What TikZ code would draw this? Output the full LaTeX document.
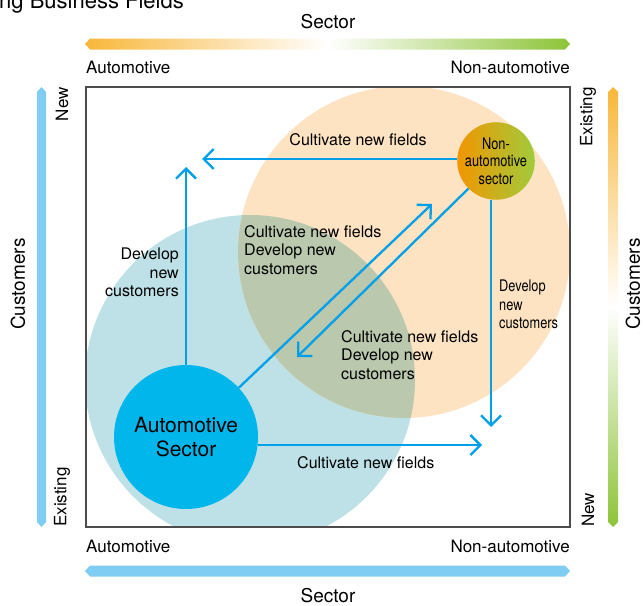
\documentclass[tikz,border=0pt]{standalone}
\usepackage{fontspec}
\setmainfont{TeX Gyre Heros}
\newfontfamily\narrowfont[FakeStretch=0.8]{TeX Gyre Heros}
\usepackage{tikz}
\usetikzlibrary{arrows.meta}

\definecolor{autoblue}{RGB}{0,182,235}
\definecolor{flowblue}{RGB}{0,160,233}
\definecolor{tealfill}{RGB}{189,225,230}
\definecolor{peachfill}{RGB}{253,227,193}
\definecolor{overlapfill}{RGB}{186,200,174}
\definecolor{barblue}{RGB}{127,205,242}
\definecolor{barorange}{RGB}{248,183,58}
\definecolor{bargreen}{RGB}{141,196,56}
\definecolor{nonorange}{RGB}{242,150,0}
\definecolor{nonyellow}{RGB}{244,238,140}
\definecolor{nongreen}{RGB}{160,203,60}

\tikzset{
  flow/.style={draw=flowblue, line width=2.3pt, -{Straight Barb[length=10pt,width=20pt]}},
  lbl/.style={font=\fontsize{16}{18.5}\selectfont, inner sep=0pt},
  narrowlbl/.style={font=\narrowfont\fontsize{16}{18.5}\selectfont, inner sep=0pt},
  axislbl/.style={font=\fontsize{17}{20}\selectfont, inner sep=0pt},
  seclbl/.style={font=\fontsize{19}{22}\selectfont, inner sep=0pt},
  framebox/.style={draw=black!70, line width=1.2pt}
}

\begin{document}
\begin{tikzpicture}[x=1pt, y=-1pt]
            \useasboundingbox (0,0) rectangle (644,605);

            \node[anchor=base west, font=\fontsize{22}{26}\selectfont, inner sep=0pt] (title) at (-1,9) {ng Business Fields};

            \begin{scope}
                \clip (86,87) rectangle (570,527);
                \fill[tealfill] (250,380) circle (165pt);
                \fill[peachfill] (404,252) circle (166pt);
                \clip (250,380) circle (165pt);
                \fill[overlapfill] (404,252) circle (166pt);
            \end{scope}
            \draw[framebox] (86,87) rectangle (570,527);

            \shade[left color=barorange, right color=bargreen, middle color=white] (85,44) -- (90,38.5) -- (565,38.5) -- (570,44) -- (565,49.5) -- (90,49.5) -- cycle;
            \fill[barblue] (85,571) -- (90,565.5) -- (565,565.5) -- (570,571) -- (565,576.5) -- (90,576.5) -- cycle;
            \fill[barblue] (41.5,87) -- (46,92) -- (46,522) -- (41.5,527) -- (37,522) -- (37,92) -- cycle;
            \shade[top color=barorange, bottom color=bargreen, middle color=white] (613,87) -- (618,92) -- (618,522) -- (613,527) -- (608,522) -- (608,92) -- cycle;

            \node[seclbl, anchor=base] (secTop) at (328,28) {Sector};
            \node[axislbl, anchor=base west] (autoTop) at (86,73) {Automotive};
            \node[axislbl, anchor=base east] (nonTop) at (570,73) {Non-automotive};
            \node[axislbl, anchor=base west] (autoBot) at (86,552) {Automotive};
            \node[axislbl, anchor=base east] (nonBot) at (570,552) {Non-automotive};
            \node[seclbl, anchor=base] (secBot) at (328,602) {Sector};

            \node[axislbl, rotate=90, anchor=east] (newLeft) at (62,87) {New};
            \node[axislbl, rotate=90, anchor=west] (exLeft) at (62,527) {Existing};
            \node[axislbl, rotate=90, anchor=east] (exRight) at (588,87) {Existing};
            \node[axislbl, rotate=90, anchor=west] (newRight) at (588,527) {New};
            \node[seclbl, rotate=90] (custLeft) at (18,284) {Customers};
            \node[seclbl, rotate=90] (custRight) at (633,284) {Customers};

            \node[circle, fill=autoblue, minimum size=144pt, inner sep=0pt, align=center, font=\fontsize{21}{24}\selectfont] (auto) at (186,437) {Automotive\\Sector};
            \node[circle, minimum size=67pt, inner sep=0pt, left color=nonorange, middle color=nonyellow, right color=nongreen, align=center, font=\narrowfont\fontsize{16}{17.5}\selectfont] (nonauto) at (496,161) {Non-\\automotive\\sector};

            \coordinate (upTip) at (186,167);
            \coordinate (leftTip) at (202,159);
            \coordinate (downTip) at (491,427);
            \coordinate (rightTip) at (482,445);
            \coordinate (neTip) at (432,204);
            \coordinate (swTip) at (297,357);

            \draw[flow] (auto.north) -- (upTip);
            \draw[flow] (leftTip -| nonauto.west) -- (leftTip);
            \draw[flow] (downTip |- nonauto.south) -- (downTip);
            \draw[flow] (rightTip -| auto.east) -- (rightTip);
            \draw[flow] (auto.43) -- (neTip);
            \draw[flow] (nonauto.225) -- (swTip);

            \node[lbl, anchor=base] (cultTop) at (358,145) {Cultivate new fields};
            \node[lbl, anchor=north east, align=right] (devLeft) at (179,248) {Develop\\new\\customers};
            \node[lbl, anchor=north west, align=left] (bothLeft) at (244,225) {Cultivate new fields\\Develop new\\customers};
            \node[lbl, anchor=north west, align=left] (bothRight) at (341,330) {Cultivate new fields\\Develop new\\customers};
            \node[lbl, anchor=base west] (cultBot) at (297,468) {Cultivate new fields};
            \node[narrowlbl, anchor=north west, align=left] (devRight) at (499,280) {Develop\\new\\customers};
\end{tikzpicture}
\end{document}
